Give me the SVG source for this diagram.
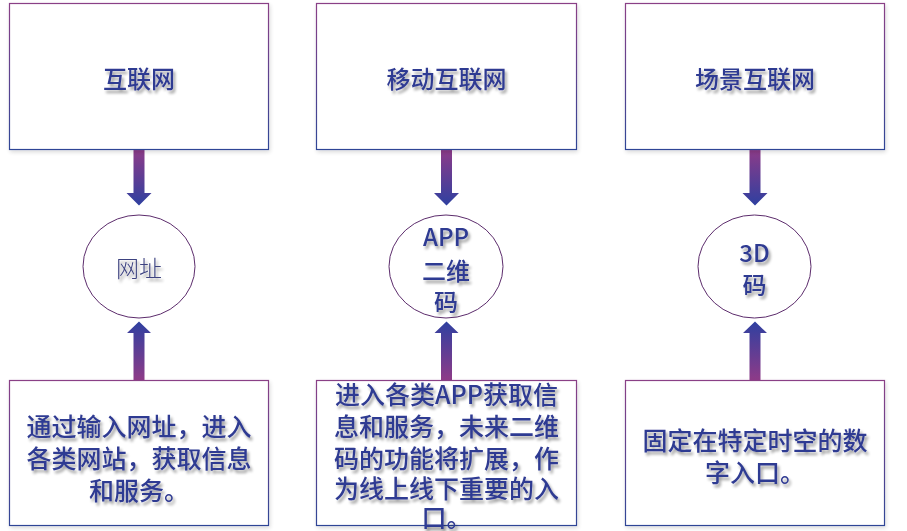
<svg xmlns="http://www.w3.org/2000/svg" width="907" height="531" viewBox="0 0 907 531">
<defs>
<linearGradient id="gBorder" x1="0" y1="0" x2="0" y2="1">
<stop offset="0" stop-color="#8a3f86"/>
<stop offset="1" stop-color="#2f4596"/>
</linearGradient>
<linearGradient id="gDown" x1="0" y1="0" x2="0" y2="1">
<stop offset="0" stop-color="#8e3b88"/>
<stop offset="1" stop-color="#2f40a0"/>
</linearGradient>
<linearGradient id="gUp" x1="0" y1="0" x2="0" y2="1">
<stop offset="0" stop-color="#2f40a0"/>
<stop offset="1" stop-color="#8e3b88"/>
</linearGradient>
<filter id="ts" x="-20%" y="-30%" width="140%" height="170%">
<feGaussianBlur in="SourceAlpha" stdDeviation="1.6"/>
<feOffset dx="1.5" dy="2.5" result="b"/>
<feComponentTransfer><feFuncA type="linear" slope="0.4"/></feComponentTransfer>
<feMerge><feMergeNode/><feMergeNode in="SourceGraphic"/></feMerge>
</filter>
<filter id="bs" x="-5%" y="-5%" width="110%" height="115%">
<feGaussianBlur in="SourceAlpha" stdDeviation="2"/>
<feOffset dx="1" dy="2"/>
<feComponentTransfer><feFuncA type="linear" slope="0.15"/></feComponentTransfer>
<feMerge><feMergeNode/><feMergeNode in="SourceGraphic"/></feMerge>
</filter>
</defs>
<style>
.box{fill:#ffffff;stroke:url(#gBorder);stroke-width:1.2;}
.circ{fill:#ffffff;stroke:#5c2c6c;stroke-width:1;}
.t{font-family:"Noto Sans CJK SC","Liberation Sans",sans-serif;fill:#2f3a92;text-anchor:middle;dominant-baseline:central;font-weight:500;}
.title{font-size:24px;}
.desc{font-size:25px;}
.mid{font-size:24px;}
.small{font-size:23px;fill:#3d4380;font-weight:300;}
</style>
<rect width="907" height="531" fill="#ffffff"/>
<g id="connectors">
<path d="M133.5,149 H144.5 V193 H151.5 L139,205.5 L126.5,193 H133.5 Z" fill="url(#gDown)"/>
<path d="M133.5,380 H144.5 V333 H151 L139,321.5 L127,333 H133.5 Z" fill="url(#gUp)"/>
<path d="M441,149 H452 V193 H459 L446.5,205.5 L434,193 H441 Z" fill="url(#gDown)"/>
<path d="M441,380 H452 V333 H458.5 L446.5,321.5 L434.5,333 H441 Z" fill="url(#gUp)"/>
<path d="M749.5,149 H760.5 V193 H767.5 L755,205.5 L742.5,193 H749.5 Z" fill="url(#gDown)"/>
<path d="M749.5,380 H760.5 V333 H767 L755,321.5 L743,333 H749.5 Z" fill="url(#gUp)"/>
</g>
<g id="top1" filter="url(#bs)">
<rect class="box" x="9.5" y="3.5" width="259" height="146"/>
<text class="t title" x="139" y="77" filter="url(#ts)">互联网</text>
</g>
<g id="top2" filter="url(#bs)">
<rect class="box" x="316.5" y="3.5" width="260" height="146"/>
<text class="t title" x="446.5" y="77" filter="url(#ts)">移动互联网</text>
</g>
<g id="top3" filter="url(#bs)">
<rect class="box" x="625.5" y="3.5" width="259" height="146"/>
<text class="t title" x="755" y="77" filter="url(#ts)">场景互联网</text>
</g>
<g id="circle1">
<ellipse class="circ" cx="139" cy="266.5" rx="56" ry="51.5"/>
<text class="t small" x="139" y="267" filter="url(#ts)">网址</text>
</g>
<g id="circle2">
<ellipse class="circ" cx="446" cy="266.5" rx="57" ry="51.5"/>
<text class="t mid" x="446" y="235" filter="url(#ts)">APP</text>
<text class="t mid" x="446" y="269" filter="url(#ts)">二维</text>
<text class="t mid" x="446" y="300" filter="url(#ts)">码</text>
</g>
<g id="circle3">
<ellipse class="circ" cx="754.5" cy="266.5" rx="56.5" ry="51.5"/>
<text class="t mid" x="754.5" y="251" filter="url(#ts)">3D</text>
<text class="t mid" x="754.5" y="283" filter="url(#ts)">码</text>
</g>
<g id="bottom1" filter="url(#bs)">
<rect class="box" x="9.5" y="380.5" width="259" height="145"/>
<text class="t desc" x="139" y="425" filter="url(#ts)">通过输入网址，进入</text>
<text class="t desc" x="139" y="457" filter="url(#ts)">各类网站，获取信息</text>
<text class="t desc" x="139" y="489" filter="url(#ts)">和服务。</text>
</g>
<g id="bottom2" filter="url(#bs)">
<rect class="box" x="316.5" y="380.5" width="260" height="145"/>
<text class="t desc" x="446.5" y="393" filter="url(#ts)">进入各类APP获取信</text>
<text class="t desc" x="446.5" y="425" filter="url(#ts)">息和服务，未来二维</text>
<text class="t desc" x="446.5" y="457" filter="url(#ts)">码的功能将扩展，作</text>
<text class="t desc" x="446.5" y="487" filter="url(#ts)">为线上线下重要的入</text>
<text class="t desc" x="446.5" y="516" filter="url(#ts)">口。</text>
</g>
<g id="bottom3" filter="url(#bs)">
<rect class="box" x="625.5" y="380.5" width="259" height="145"/>
<text class="t desc" x="755" y="439" filter="url(#ts)">固定在特定时空的数</text>
<text class="t desc" x="755" y="471" filter="url(#ts)">字入口。</text>
</g>
</svg>
